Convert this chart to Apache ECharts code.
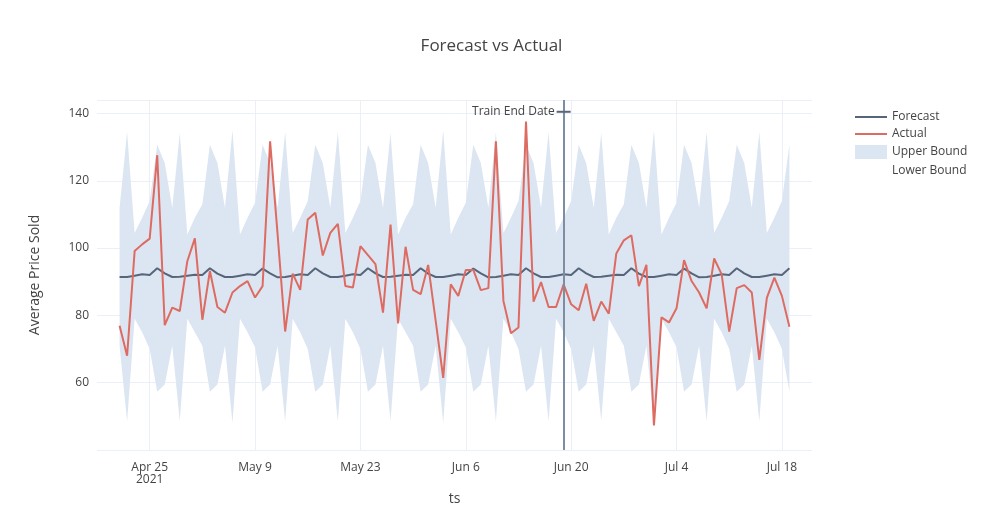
<!DOCTYPE html>
<html><head><meta charset="utf-8">
<script src="https://cdn.jsdelivr.net/npm/echarts@6/dist/echarts.min.js"></script>
<style>html,body{margin:0;padding:0;background:#fff}#c{width:983px;height:525px}</style>
</head><body><div id="c"></div>
<script>
const startDate = '2021-04-21';
const actual = [76.9,68.0,99.1,101.1,102.8,127.6,77.1,82.3,81.3,96.1,102.9,78.7,93.2,82.5,80.8,86.8,88.7,90.2,85.3,88.7,131.7,104,75.2,92.4,87.6,108.5,110.5,97.8,104.5,107.2,
88.7,88.3,100.6,97.9,95.2,80.8,107,77.6,100.4,87.6,86.3,95,78.4,61.4,89.2,85.8,93.5,93.5,87.5,88.1,131.7,84.3,74.7,76.4,137.6,84.1,89.9,82.5,82.5,89.2,
83.3,81.5,89.4,78.4,84.1,80.5,98.4,102.3,103.8,88.7,95,47.3,79.4,77.9,82.1,96.4,90.2,86.8,82.1,96.9,92.2,75.2,88.1,89.0,86.8,66.8,85.2,91.2,85.8,76.6];
const forecast = [91.4,91.4,91.8,92.2,92.0,94.0,92.5, 91.4,91.5,91.8,92.1,92.0,94.0,92.4, 91.4,91.4,91.8,92.2,92.0,93.9,92.5, 91.3,91.4,91.8,92.2,92.0,94.0,92.5,
91.4,91.4,91.8,92.2,92.0,94.0,92.5, 91.4,91.5,91.8,92.1,92.0,94.0,92.4, 91.4,91.4,91.8,92.2,92.0,93.9,92.5, 91.3,91.4,91.8,92.2,92.0,94.0,92.5,
91.4,91.4,91.8,92.2,92.0,94.0,92.5, 91.4,91.5,91.8,92.1,92.0,94.0,92.4, 91.4,91.4,91.8,92.2,92.0,93.9,92.5, 91.3,91.4,91.8,92.2,92.0,94.0,92.5,
91.4,91.4,91.8,92.2,92.0,94.0];
const upper = [112,134.5,104.5,109,114,130.7,125.3, 112,134.2,104,109,113,130.7,125.3, 112,135,104,109,113.5,130.7,125.3, 112,134.5,104.5,109,114,130.7,125.3,
112,134.5,104.5,109,114,130.7,125.3, 112,134.2,104,109,113,130.7,125.3, 112,135,104,109,113.5,130.7,125.3, 112,134.5,104.5,109,114,130.7,125.3,
112,134.5,104.5,109,114,130.7,125.3, 112,134.2,104,109,113,130.7,125.3, 112,135,104,109,113.5,130.7,125.3, 112,134.5,104.5,109,114,130.7,125.3,
112,134.5,104.5,109,114,130.7];
const lower = [71,48.5,79,75,70,57.3,59.5, 71,48.6,79,75,71,57.3,59.5, 71,48,79,75,70.5,57.3,59.5, 71,48.5,79,75,70,57.3,59.5,
71,48.5,79,75,70,57.3,59.5, 71,48.6,79,75,71,57.3,59.5, 71,48,79,75,70.5,57.3,59.5, 71,48.5,79,75,70,57.3,59.5,
71,48.5,79,75,70,57.3,59.5, 71,48.6,79,75,71,57.3,59.5, 71,48,79,75,70.5,57.3,59.5, 71,48.5,79,75,70,57.3,59.5,
71,48.5,79,75,70,57.3];
const tickDates = ['Apr 25','May 9','May 23','Jun 6','Jun 20','Jul 4','Jul 18'];
const trainEnd = 'Jun 19';
const padBefore = 3, padAfter = 3;

const M = ['Jan','Feb','Mar','Apr','May','Jun','Jul','Aug','Sep','Oct','Nov','Dec'];
const n = actual.length;
const cats = [];
const d0 = new Date(startDate + 'T00:00:00Z');
for (let i = -padBefore; i < n + padAfter; i++) {
  const d = new Date(d0.getTime() + i * 86400000);
  cats.push(M[d.getUTCMonth()] + ' ' + d.getUTCDate());
}
const pad = a => Array(padBefore).fill(null).concat(a, Array(padAfter).fill(null));
const band = upper.map((u, i) => +(u - lower[i]).toFixed(2));
const txt = '#444';
const font = '"Open Sans", sans-serif';
const chart = echarts.init(document.getElementById('c'));
chart.setOption({
  animation: false,
  textStyle: { fontFamily: font, color: txt },
  title: { text: 'Forecast vs Actual', left: 'center', top: 33, textStyle: { fontFamily: font, fontSize: 17, fontWeight: 'normal', color: txt } },
  legend: {
    orient: 'vertical', left: 850, top: 106, itemGap: 5, itemWidth: 32, itemHeight: 14,
    textStyle: { fontFamily: font, fontSize: 12, color: txt },
    data: [
      { name: 'Forecast', icon: 'path://M0,6L32,6L32,8L0,8Z' },
      { name: 'Actual', icon: 'path://M0,6L32,6L32,8L0,8Z' },
      { name: 'Upper Bound', icon: 'rect' },
      { name: 'Lower Bound', icon: 'rect', itemStyle: { opacity: 0 } }
    ]
  },
  grid: { left: 97, right: 171, top: 100, bottom: 75 },
  xAxis: {
    type: 'category', data: cats, boundaryGap: false,
    name: 'ts', nameLocation: 'middle', nameGap: 42, nameTextStyle: { fontSize: 14, color: txt },
    axisLine: { show: false },
    axisTick: { show: false },
    axisLabel: {
      interval: (i, v) => tickDates.includes(v), color: txt, fontSize: 12, margin: 12,
      formatter: v => v === tickDates[0] ? v + '\n2021' : v
    },
    splitLine: { show: true, interval: (i, v) => tickDates.includes(v), lineStyle: { color: '#ebf0f8', width: 1 } }
  },
  yAxis: {
    type: 'value', min: 40, max: 144, interval: 20,
    name: 'Average Price Sold', nameLocation: 'middle', nameGap: 55, nameTextStyle: { fontSize: 14, color: txt },
    axisLabel: { color: txt, fontSize: 12, showMinLabel: false, showMaxLabel: false, formatter: v => (v === 40 ? '' : v) },
    splitLine: { lineStyle: { color: '#ebf0f8', width: 1 } }
  },
  series: [
    { name: 'Lower Bound', type: 'line', stack: 'b', data: pad(lower), symbol: 'none', lineStyle: { opacity: 0 }, itemStyle: { color: '#dce6f2' }, z: 1 },
    { name: 'Upper Bound', type: 'line', stack: 'b', data: pad(band), symbol: 'none', lineStyle: { opacity: 0 }, areaStyle: { color: '#dce6f2', opacity: 1 }, itemStyle: { color: '#dce6f2' }, z: 1 },
    { name: 'Forecast', type: 'line', data: pad(forecast), symbol: 'none', lineStyle: { color: '#56657a', width: 2 }, itemStyle: { color: '#56657a' }, z: 3 },
    { name: 'Actual', type: 'line', data: pad(actual), symbol: 'none', lineStyle: { color: '#dd6b62', width: 2 }, itemStyle: { color: '#dd6b62' }, z: 4,
      markLine: { silent: true, symbol: 'none', label: { show: false }, lineStyle: { color: '#7d8ea3', width: 2, type: 'solid' },
        data: [[{ coord: [trainEnd, 40] }, { coord: [trainEnd, 144] }]] },
      markPoint: { silent: true, symbol: 'rect', symbolSize: [14, 2], itemStyle: { color: '#56657a' },
        label: { show: true, position: 'left', distance: 2, formatter: 'Train End Date', color: txt, fontSize: 12, fontFamily: font },
        data: [{ coord: [trainEnd, 140.5] }] } }
  ]
});
</script></body></html>
